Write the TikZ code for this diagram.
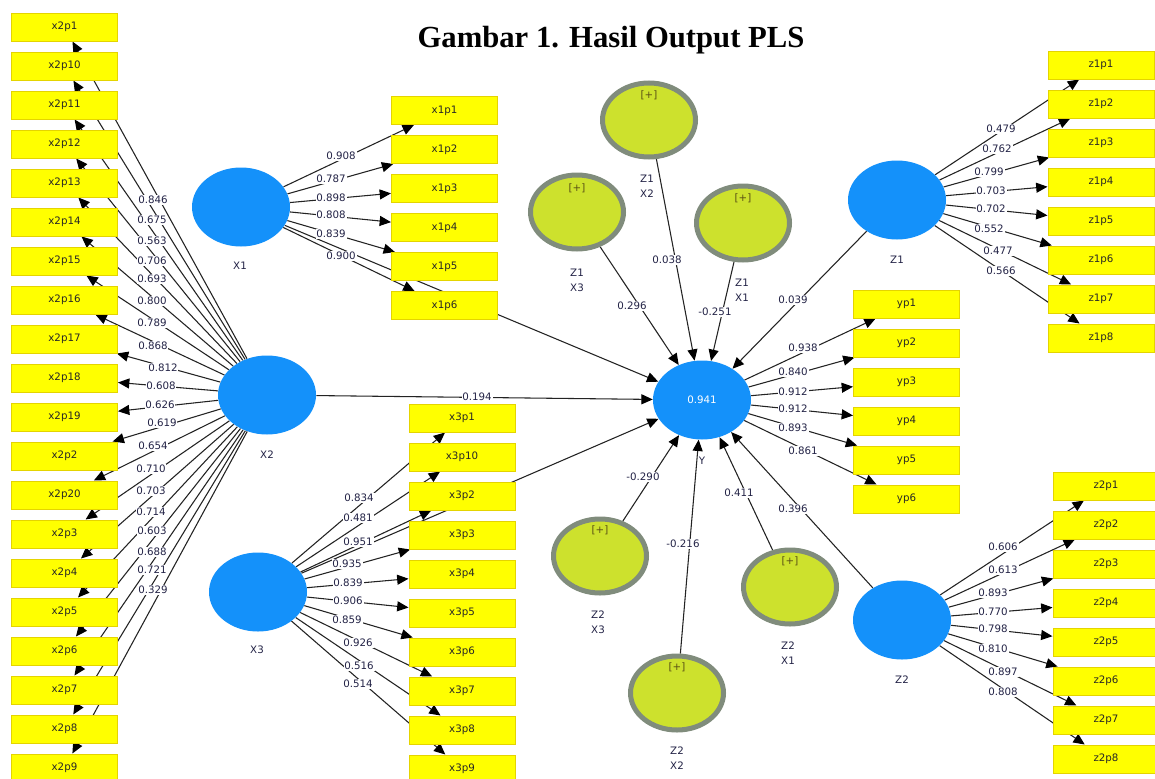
\documentclass[tikz,border=0pt]{standalone}
\usepackage{fontspec}
\setmainfont{Liberation Serif}
\newfontfamily\labfont{DejaVu Sans}
\usetikzlibrary{shapes.geometric,arrows.meta}
\pgfdeclarelayer{edges}
\pgfdeclarelayer{paper}
\pgfsetlayers{paper,edges,main}
\definecolor{boxyellow}{RGB}{255,255,0}
\definecolor{boxedge}{RGB}{228,212,0}
\definecolor{lvblue}{RGB}{20,145,250}
\definecolor{intfill}{RGB}{205,225,45}
\definecolor{intring}{RGB}{128,140,124}
\definecolor{labcol}{RGB}{35,35,70}
\definecolor{pluscol}{RGB}{90,80,20}
\definecolor{linecol}{RGB}{35,35,35}
\tikzset{
  indbox/.style={rectangle, fill=boxyellow, draw=boxedge, line width=0.75pt,
    minimum width=79.5pt, minimum height=21pt, inner sep=0pt,
    font=\labfont\fontsize{7.7}{9}\selectfont, text=black!85},
  latent/.style={ellipse, fill=lvblue, minimum width=73.5pt, minimum height=59.25pt, inner sep=0pt},
  intnode/.style={ellipse, fill=intfill, draw=intring, line width=3.75pt,
    minimum width=69.75pt, minimum height=55.5pt, inner sep=0pt},
  plustxt/.style={font=\labfont\fontsize{7.7}{9}\selectfont, text=pluscol, inner sep=0pt},
  coeflbl/.style={fill=white, inner sep=0.6pt, font=\labfont\fontsize{7.7}{9}\selectfont, text=labcol},
  lvlabel/.style={font=\labfont\fontsize{7.7}{11.5}\selectfont, text=labcol, align=center, inner sep=0pt},
  arr/.style={draw=linecol, line width=0.8pt, -{Triangle[length=8.5pt,width=7.5pt,color=black]}},
}
\begin{document}
\begin{tikzpicture}[x=0.75pt,y=-0.75pt]
\useasboundingbox (0,0) rectangle (1155,778);
\begin{pgfonlayer}{paper}
\fill[white] (0,0) rectangle (1155,778);
\end{pgfonlayer}

% title
\node[anchor=base, inner sep=0pt, font=\bfseries\fontsize{23}{27}\selectfont] (title) at (611,47) {Gambar 1. Hasil Output PLS};

% latent variables
\node[latent] (X1) at (241,207) {};
\node[latent] (X2) at (267,395) {};
\node[latent] (X3) at (258,592) {};
\node[latent, text=white, font=\labfont\fontsize{7.7}{9}\selectfont] (Y) at (702,400) {0.941};
\node[latent] (Z1) at (897,200) {};
\node[latent] (Z2) at (902,620) {};

\node[lvlabel] (nX1) at (240,266) {X1};
\node[lvlabel] (nX2) at (267,455) {X2};
\node[lvlabel] (nX3) at (257,650) {X3};
\node[lvlabel] (nY) at (702,461) {Y};
\node[lvlabel] (nZ1) at (897,260) {Z1};
\node[lvlabel] (nZ2) at (902,680) {Z2};

% interaction terms
\node[intnode] (Z1X2) at (649,120) {};
\node[intnode] (Z1X3) at (577,212) {};
\node[intnode] (Z1X1) at (743,223) {};
\node[intnode] (Z2X3) at (600,556) {};
\node[intnode] (Z2X2) at (677,693) {};
\node[intnode] (Z2X1) at (790,587) {};
\node[plustxt] (pZ1X2) at (649,95) {[+]};
\node[plustxt] (pZ1X3) at (577,188) {[+]};
\node[plustxt] (pZ1X1) at (743,198) {[+]};
\node[plustxt] (pZ2X3) at (600,530) {[+]};
\node[plustxt] (pZ2X2) at (677,667) {[+]};
\node[plustxt] (pZ2X1) at (790,561) {[+]};
\node[lvlabel] (nZ1X2) at (647,186) {Z1\\X2};
\node[lvlabel] (nZ1X3) at (577,280) {Z1\\X3};
\node[lvlabel] (nZ1X1) at (742,290) {Z1\\X1};
\node[lvlabel] (nZ2X3) at (598,622) {Z2\\X3};
\node[lvlabel] (nZ2X2) at (677,758) {Z2\\X2};
\node[lvlabel] (nZ2X1) at (788,653) {Z2\\X1};

% indicators
\foreach \n [count=\i from 0] in {1,10,11,12,13,14,15,16,17,18,19,2,20,3,4,5,6,7,8,9}
  \node[indbox] (x2p\n) at (64.5,{27+39*\i}) {x2p\n};
\foreach \n [count=\i from 0] in {1,2,3,4,5,6}
  \node[indbox] (x1p\n) at (444.5,{110.5+39*\i}) {x1p\n};
\foreach \n [count=\i from 0] in {1,10,2,3,4,5,6,7,8,9}
  \node[indbox] (x3p\n) at (462,{418+39*\i}) {x3p\n};
\foreach \n [count=\i from 0] in {1,2,3,4,5,6}
  \node[indbox] (yp\n) at (906.5,{304+39*\i}) {yp\n};
\foreach \n [count=\i from 0] in {1,2,3,4,5,6,7,8}
  \node[indbox] (z1p\n) at (1101,{65+39*\i}) {z1p\n};
\foreach \n [count=\i from 0] in {1,2,3,4,5,6,7,8}
  \node[indbox] (z2p\n) at (1106,{486+39*\i}) {z2p\n};

% connectors
\begin{pgfonlayer}{edges}
\foreach \n in {1,10,11,12,13,14,15,16,17,18,19,2,20,3,4,5,6,7,8,9}
  \draw[arr] (X2) -- (x2p\n);
\foreach \n in {1,2,3,4,5,6}
  \draw[arr] (X1) -- (x1p\n);
\foreach \n in {1,10,2,3,4,5,6,7,8,9}
  \draw[arr] (X3) -- (x3p\n);
\foreach \n in {1,2,3,4,5,6}
  \draw[arr] (Y) -- (yp\n);
\foreach \n in {1,2,3,4,5,6,7,8}
  \draw[arr] (Z1) -- (z1p\n);
\foreach \n in {1,2,3,4,5,6,7,8}
  \draw[arr] (Z2) -- (z2p\n);
\foreach \s in {X1,X2,X3,Z1,Z2,Z1X1,Z1X2,Z1X3,Z2X1,Z2X2,Z2X3}
  \draw[arr] (\s) -- (Y);
\end{pgfonlayer}

% coefficient labels
\foreach \t/\x/\y [count=\i] in {0.846/153/200,0.675/152/220,0.563/152/241,0.706/152/261,0.693/152/279,0.800/152/301,0.789/152/323,0.868/153/346,0.812/163/368,0.608/161/386,0.626/160/405,0.619/162/423,0.654/153/446,0.710/151/469,0.703/151/491,0.714/151/512,0.603/152/531,0.688/152/552,0.721/152/570,0.329/153/590}
  \node[coeflbl] (cX2-\i) at (\x,\y) {\t};
\foreach \t/\x/\y [count=\i] in {0.908/341/156,0.787/331/179,0.898/331/198,0.808/331/215,0.839/331/234,0.900/341/256}
  \node[coeflbl] (cX1-\i) at (\x,\y) {\t};
\foreach \t/\x/\y [count=\i] in {0.834/359/498,0.481/358/518,0.951/358/542,0.935/347/564,0.839/348/583,0.906/348/601,0.859/347/620,0.926/358/643,0.516/359/666,0.514/358/684}
  \node[coeflbl] (cX3-\i) at (\x,\y) {\t};
\foreach \t/\x/\y [count=\i] in {0.938/803/348,0.840/793/372,0.912/793/392,0.912/793/409,0.893/793/428,0.861/803/451}
  \node[coeflbl] (cY-\i) at (\x,\y) {\t};
\foreach \t/\x/\y [count=\i] in {0.479/1001/129,0.762/997/149,0.799/989/172,0.703/991/191,0.702/991/209,0.552/989/229,0.477/998/251,0.566/1001/271}
  \node[coeflbl] (cZ1-\i) at (\x,\y) {\t};
\foreach \t/\x/\y [count=\i] in {0.606/1003/547,0.613/1003/570,0.893/993/593,0.770/993/612,0.798/993/629,0.810/993/649,0.897/1003/672,0.808/1003/692}
  \node[coeflbl] (cZ2-\i) at (\x,\y) {\t};
\foreach \t/\x/\y [count=\i] in {0.194/477/397,0.296/632/306,0.038/667/260,-0.251/715/312,0.039/793/300,-0.290/643/477,-0.216/683/544,0.411/739/493,0.396/793/509}
  \node[coeflbl] (cS-\i) at (\x,\y) {\t};
\end{tikzpicture}
\end{document}
